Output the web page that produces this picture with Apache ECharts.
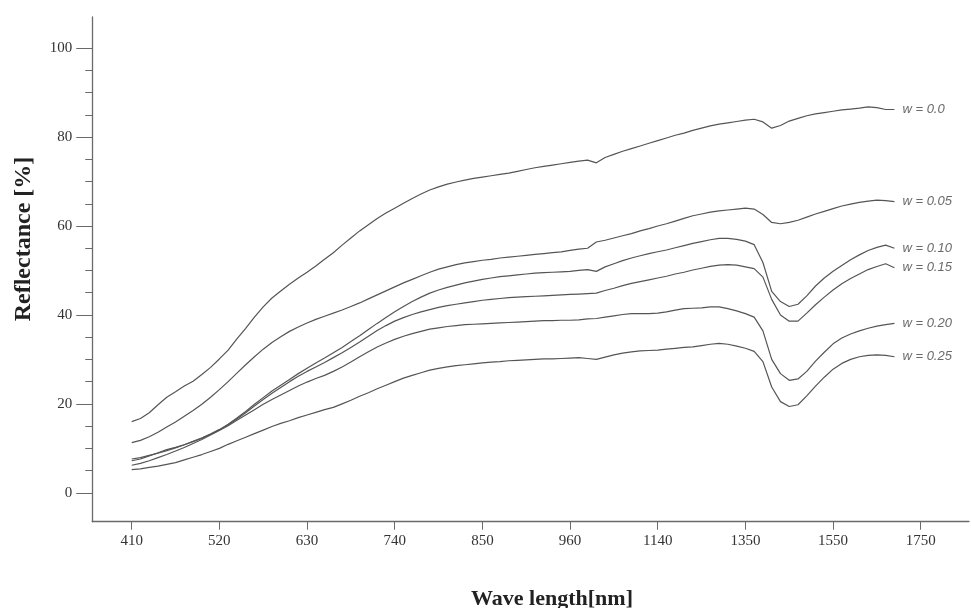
<!DOCTYPE html>
<html>
<head>
<meta charset="utf-8">
<script src="https://cdn.jsdelivr.net/npm/echarts@6/dist/echarts.min.js"></script>
<style>html,body{margin:0;padding:0;background:#fff}#c{width:971px;height:608px}</style>
</head>
<body>
<div id="c"></div>
<script>
// Tick labels of the (non-linear) wavelength axis, evenly spaced on the page
const tickLabels = [410, 520, 630, 740, 850, 960, 1140, 1350, 1550, 1750];
const yTicks = [0, 20, 40, 60, 80, 100];
const yMinorTicks = [5, 10, 15, 25, 30, 35, 45, 50, 55, 65, 70, 75, 85, 90, 95];
const seriesNames = ['w = 0.0', 'w = 0.05', 'w = 0.10', 'w = 0.15', 'w = 0.20', 'w = 0.25'];

// Reflectance [%] sampled at 10 equal steps between consecutive axis ticks, from 410 nm to ~1690 nm
const w000 = [16.0,16.7,18.0,19.8,21.5,22.7,24.0,25.1,26.6,28.2,30.1,32.1,34.6,37.0,39.5,41.8,43.8,45.4,46.9,48.3,49.6,51.0,52.5,54.0,55.7,57.3,58.9,60.3,61.7,62.9,64.0,65.1,66.2,67.2,68.1,68.8,69.4,69.9,70.3,70.7,71.0,71.3,71.6,71.9,72.3,72.7,73.1,73.4,73.7,74.0,74.3,74.6,74.8,74.2,75.4,76.1,76.8,77.4,78.0,78.6,79.2,79.8,80.4,80.9,81.5,82.0,82.5,82.9,83.2,83.5,83.8,84.0,83.4,82.0,82.6,83.6,84.2,84.8,85.2,85.5,85.8,86.1,86.3,86.5,86.8,86.6,86.2,86.2];
const w005 = [11.3,11.8,12.6,13.6,14.8,15.9,17.2,18.5,19.9,21.5,23.2,25.0,26.9,28.8,30.6,32.3,33.8,35.1,36.3,37.3,38.2,39.0,39.7,40.4,41.1,41.9,42.7,43.6,44.5,45.4,46.3,47.2,48.0,48.8,49.6,50.3,50.8,51.3,51.7,52.0,52.3,52.5,52.8,53.0,53.2,53.4,53.6,53.8,54.0,54.2,54.5,54.8,55.0,56.4,56.8,57.3,57.8,58.3,58.9,59.4,60.0,60.5,61.1,61.7,62.3,62.7,63.1,63.4,63.6,63.8,64.0,63.8,62.6,60.8,60.5,60.8,61.3,62.0,62.7,63.3,63.9,64.5,64.9,65.3,65.6,65.8,65.7,65.5];
const w010 = [7.2,7.6,8.3,9.0,9.7,10.2,10.8,11.6,12.3,13.2,14.2,15.4,16.8,18.3,19.9,21.4,22.9,24.2,25.5,26.8,28.0,29.2,30.3,31.5,32.7,34.0,35.3,36.7,38.1,39.4,40.7,41.9,43.0,44.0,44.9,45.6,46.2,46.7,47.2,47.6,48.0,48.3,48.6,48.8,49.0,49.2,49.4,49.5,49.6,49.7,49.8,50.0,50.2,49.8,50.8,51.5,52.2,52.8,53.3,53.8,54.2,54.6,55.1,55.6,56.1,56.5,56.9,57.2,57.2,57.0,56.6,55.8,51.8,45.3,43.0,41.9,42.4,44.3,46.5,48.3,49.8,51.1,52.4,53.5,54.5,55.2,55.7,55.0];
const w015 = [7.6,7.9,8.4,8.9,9.5,10.1,10.8,11.5,12.3,13.2,14.2,15.3,16.6,18.0,19.5,21.0,22.4,23.7,25.0,26.2,27.3,28.3,29.3,30.4,31.5,32.7,33.9,35.2,36.5,37.6,38.6,39.4,40.1,40.7,41.2,41.7,42.1,42.4,42.7,43.0,43.3,43.5,43.7,43.9,44.0,44.1,44.2,44.3,44.4,44.5,44.6,44.7,44.8,44.9,45.5,46.0,46.6,47.1,47.5,47.9,48.3,48.7,49.2,49.6,50.1,50.5,50.9,51.2,51.3,51.2,50.8,50.4,48.5,43.5,40.0,38.6,38.6,40.4,42.3,44.0,45.6,47.0,48.2,49.2,50.2,50.9,51.5,50.6];
const w020 = [6.2,6.6,7.2,7.9,8.6,9.4,10.2,11.1,12.0,13.0,14.0,15.1,16.3,17.5,18.7,19.9,21.0,22.0,23.0,24.0,24.9,25.7,26.4,27.3,28.3,29.4,30.6,31.7,32.8,33.7,34.5,35.2,35.8,36.3,36.8,37.1,37.4,37.6,37.8,37.9,38.0,38.1,38.2,38.3,38.4,38.5,38.6,38.7,38.7,38.8,38.8,38.9,39.1,39.2,39.5,39.8,40.1,40.3,40.3,40.3,40.4,40.7,41.1,41.4,41.5,41.6,41.8,41.8,41.4,40.9,40.3,39.5,36.4,30.0,26.8,25.3,25.6,27.3,29.6,31.6,33.5,34.8,35.7,36.4,37.0,37.5,37.8,38.1];
const w025 = [5.2,5.4,5.7,6.0,6.4,6.8,7.4,8.0,8.6,9.3,10.0,10.9,11.7,12.5,13.3,14.1,14.9,15.6,16.2,16.9,17.5,18.1,18.7,19.2,20.0,20.8,21.7,22.5,23.4,24.2,25.0,25.8,26.4,27.0,27.6,28.0,28.3,28.6,28.8,29.0,29.2,29.4,29.5,29.7,29.8,29.9,30.0,30.1,30.1,30.2,30.3,30.4,30.2,30.0,30.5,31.0,31.4,31.7,31.9,32.0,32.1,32.3,32.5,32.7,32.8,33.1,33.4,33.6,33.4,33.0,32.5,31.8,29.5,23.8,20.5,19.4,19.8,21.8,24.0,26.0,27.8,29.1,30.0,30.6,30.9,31.0,30.9,30.6];

const allSeries = [w000, w005, w010, w015, w020, w025];

// Build the category axis: 10 sub-steps between ticks, plus a small margin before/after
const SUB = 10, LEAD = 4, TAIL = 5;
const categories = [];
const firstStep = (tickLabels[1] - tickLabels[0]) / SUB;
for (let k = LEAD; k >= 1; k--) categories.push(String(Math.round(tickLabels[0] - k * firstStep)));
for (let j = 0; j < tickLabels.length - 1; j++) {
  const a = tickLabels[j], b = tickLabels[j + 1];
  for (let s = 0; s < SUB; s++) categories.push(String(Math.round(a + (b - a) * s / SUB)));
}
const lastStep = (tickLabels[tickLabels.length - 1] - tickLabels[tickLabels.length - 2]) / SUB;
categories.push(String(tickLabels[tickLabels.length - 1]));
for (let k = 1; k <= TAIL; k++) categories.push(String(Math.round(tickLabels[tickLabels.length - 1] + k * lastStep)));

const tickSet = new Set(tickLabels.map(String));
const isTick = (idx, val) => tickSet.has(val);

const axisColor = '#6a6a6a';
const serif = '"Liberation Serif", "Times New Roman", serif';

const chart = echarts.init(document.getElementById('c'), null, { renderer: 'canvas' });
chart.setOption({
  animation: false,
  backgroundColor: '#fff',
  grid: { left: 92.25, right: 2.05, top: 17, bottom: 86.3, containLabel: false },
  xAxis: {
    type: 'category',
    data: categories,
    boundaryGap: true,
    axisLine: { onZero: false, lineStyle: { color: axisColor, width: 1.3 } },
    axisTick: { show: true, alignWithLabel: true, interval: isTick, length: 8, lineStyle: { color: axisColor, width: 1 } },
    axisLabel: { interval: isTick, margin: 12, fontFamily: serif, fontSize: 15, color: '#333' },
    splitLine: { show: false }
  },
  yAxis: [{
    type: 'value',
    min: -6.5,
    max: 107,
    axisLine: { show: true, onZero: false, lineStyle: { color: axisColor, width: 1.3 } },
    axisTick: { show: true, customValues: yTicks, length: 16, lineStyle: { color: axisColor } },
    axisLabel: { customValues: yTicks, margin: 20, fontFamily: serif, fontSize: 15, color: '#333' },
    splitLine: { show: false }
  }, {
    type: 'value',
    min: -6.5,
    max: 107,
    position: 'left',
    axisLine: { show: false, onZero: false },
    axisTick: { show: true, customValues: yMinorTicks, length: 7, lineStyle: { color: axisColor } },
    axisLabel: { show: false },
    splitLine: { show: false }
  }],
  series: allSeries.map((vals, i) => ({
    name: seriesNames[i],
    type: 'line',
    yAxisIndex: 0,
    showSymbol: false,
    symbol: 'none',
    smooth: false,
    data: new Array(LEAD).fill(null).concat(vals),
    lineStyle: { color: '#555', width: 1.2 },
    endLabel: {
      show: true,
      formatter: seriesNames[i],
      distance: 8,
      fontFamily: '"Liberation Sans", Arial, sans-serif',
      fontStyle: 'italic',
      fontSize: 13,
      color: '#6a6a6a'
    }
  })),
  graphic: [
    {
      type: 'text', x: 552, y: 599,
      style: { text: 'Wave length[nm]', font: 'bold 22px ' + serif, fill: '#222', align: 'center', verticalAlign: 'middle', textAlign: 'center', textVerticalAlign: 'middle' }
    },
    {
      type: 'text', x: 24, y: 239, rotation: Math.PI / 2,
      style: { text: 'Reflectance [%]', font: 'bold 24px ' + serif, fill: '#222', align: 'center', verticalAlign: 'middle', textAlign: 'center', textVerticalAlign: 'middle' }
    }
  ]
});
</script>
</body>
</html>
